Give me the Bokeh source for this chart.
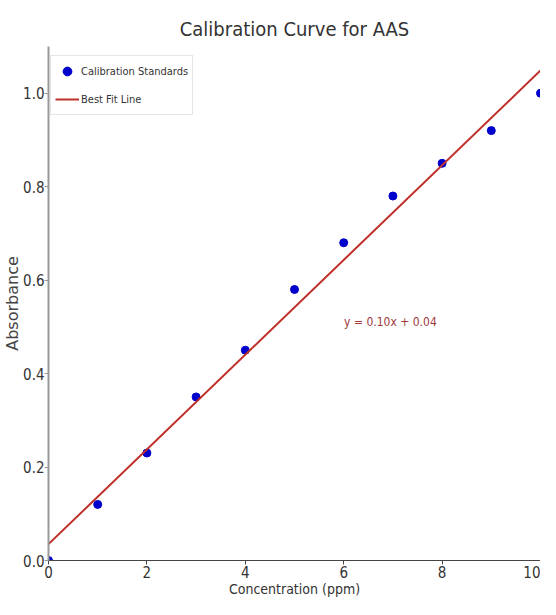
import numpy as np
from bokeh.plotting import figure
from bokeh.models import ColumnDataSource, Legend, LegendItem, Label, Range1d, FixedTicker, PrintfTickFormatter, Title
from bokeh.embed import file_html
from bokeh.resources import INLINE

concentration = [0, 1, 2, 3, 4, 5, 6, 7, 8, 9, 10]
absorbance = [0.0, 0.12, 0.23, 0.35, 0.45, 0.58, 0.68, 0.78, 0.85, 0.92, 1.0]
x_ticks = [0, 2, 4, 6, 8, 10]
y_ticks = [0.0, 0.2, 0.4, 0.6, 0.8, 1.0]

slope, intercept = np.polyfit(concentration, absorbance, 1)
fit_x = [0, 10.5]
fit_y = [slope * v + intercept for v in fit_x]

NARROW = "DejaVu Sans Condensed"

p = figure(width=540, height=599, output_backend="svg", toolbar_location=None,
           x_range=Range1d(0, 10), y_range=Range1d(0, 1.1),
           min_border_left=0, min_border_right=0, min_border_top=0, min_border_bottom=0)
# small spacer as the outer title, real title placed nearer the frame
p.title.text = " "
p.title.text_font_size = "5px"
p.title.standoff = 0
p.add_layout(Title(text="Calibration Curve for AAS", align="center", text_font=NARROW,
                   text_font_size="20px", text_font_style="normal",
                   text_color="#333333", standoff=12), "above")

p.grid.visible = False
p.outline_line_color = None

src = ColumnDataSource(dict(x=concentration, y=absorbance))
r_pts = p.scatter("x", "y", source=src, size=8, color="#0000cc")
r_line = p.line(fit_x, fit_y, line_color="#c0302a", line_width=2)

for ax in (p.xaxis[0], p.yaxis[0]):
    ax.major_label_text_font = NARROW
    ax.major_label_text_font_size = "15px"
    ax.major_label_text_color = "#333333"
    ax.minor_tick_line_color = None
    ax.major_tick_in = 0
    ax.major_tick_out = 4
    ax.axis_label_text_font_style = "normal"
    ax.axis_label_text_color = "#333333"

p.xaxis[0].ticker = FixedTicker(ticks=x_ticks)
p.yaxis[0].ticker = FixedTicker(ticks=y_ticks)
p.yaxis[0].formatter = PrintfTickFormatter(format="%.1f")
p.xaxis[0].axis_label = "Concentration (ppm)"
p.xaxis[0].axis_label_text_font = NARROW
p.xaxis[0].axis_label_text_font_size = "14px"
p.xaxis[0].axis_label_standoff = 0
p.xaxis[0].major_label_standoff = 1
p.xaxis[0].axis_line_color = "#444444"
p.xaxis[0].major_tick_line_color = "#444444"
p.yaxis[0].axis_label = "Absorbance"
p.yaxis[0].axis_label_text_font = "DejaVu Sans"
p.yaxis[0].axis_label_text_font_size = "16px"
p.yaxis[0].axis_label_text_color = "#444444"
p.yaxis[0].axis_label_standoff = -2
p.yaxis[0].major_label_standoff = 0
p.yaxis[0].axis_line_color = "#999999"
p.yaxis[0].axis_line_width = 2
p.yaxis[0].major_tick_line_color = "#999999"

eq = Label(x=6.95, y=0.51, text="y = %.2fx + %.2f" % (slope, intercept),
           text_font=NARROW, text_font_size="12px", text_color="#a0383a",
           text_align="center", text_baseline="middle")
p.add_layout(eq)

legend = Legend(items=[LegendItem(label="Calibration Standards", renderers=[r_pts]),
                       LegendItem(label="Best Fit Line", renderers=[r_line])],
                location=(2, 445), label_text_font=NARROW, label_text_font_size="11px",
                label_text_color="#333333", border_line_color="#cccccc",
                background_fill_alpha=0.9, glyph_width=24, glyph_height=22,
                label_standoff=2, spacing=6, padding=4, margin=0)
p.add_layout(legend)

open("out.html", "w").write(file_html(p, INLINE))
